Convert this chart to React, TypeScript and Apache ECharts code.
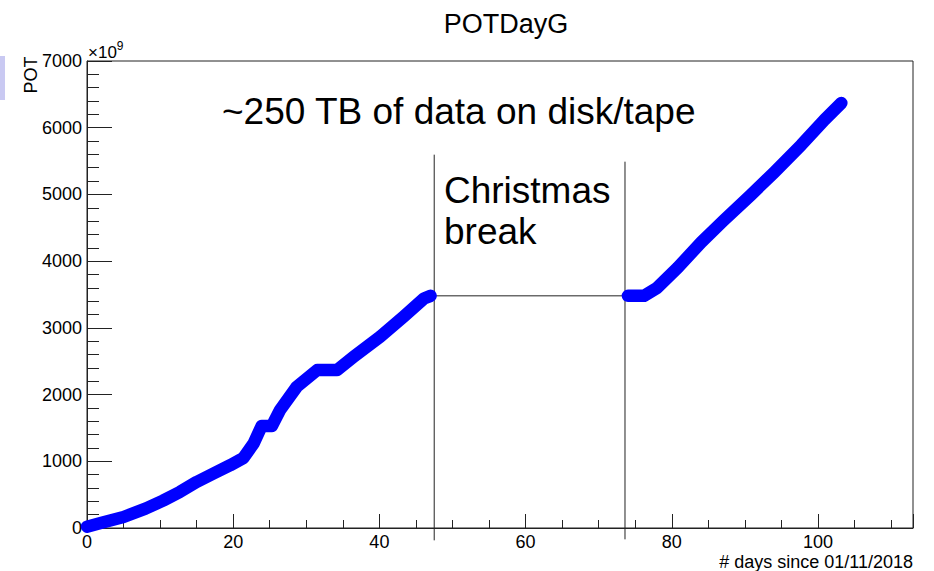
import React, { useEffect, useRef } from "react";
import * as echarts from "echarts";

// Cumulative POT (×10^9) vs day, before the Christmas break
const daysBefore = [0, 2, 5, 8, 10.4, 12.7, 15, 17.3, 19.6, 21.4, 22.8, 23.9, 25.3, 26.4, 28.7, 31.5, 34.2, 36.5, 40.1, 43.3, 46.1, 47];
const potBefore = [20, 80, 165, 290, 410, 540, 690, 817, 941, 1050, 1267, 1530, 1530, 1767, 2117, 2368, 2368, 2568, 2868, 3168, 3440, 3480];
// after the break
const daysAfter = [74, 76.2, 78, 80.8, 84, 87, 90.8, 94, 97.7, 100.9, 103.2];
const potAfter = [3480, 3480, 3600, 3900, 4280, 4600, 4990, 5330, 5740, 6120, 6370];

const breakStart = 47.5;
const breakEnd = 73.6;
const breakLevel = 3480;

const xTicks = { min: 0, max: 113, interval: 20 };
const yTicks = { min: 0, max: 7000, interval: 1000 };

const FONT = "Liberation Sans, Arial, Helvetica, sans-serif";

export default function App() {
  const ref = useRef<HTMLDivElement>(null);
  useEffect(() => {
    if (!ref.current) return;
    const chart = echarts.init(ref.current, null, { renderer: "svg" });
    const pairs = (xs: number[], ys: number[]) => xs.map((x, i) => [x, ys[i]]);
    chart.setOption({
      animation: false,
      backgroundColor: "#ffffff",
      title: {
        text: "POTDayG",
        left: 501,
        top: 5,
        textAlign: "center",
        textStyle: { fontFamily: FONT, fontSize: 27, fontWeight: "normal", color: "#000" },
      },
      grid: {
        left: 87,
        right: 21,
        top: 61,
        bottom: 43,
        containLabel: false,
        outerBoundsMode: "none",
        show: true,
        borderColor: "#222",
        borderWidth: 1,
        backgroundColor: "transparent",
      },
      xAxis: {
        type: "value",
        min: xTicks.min,
        max: xTicks.max,
        interval: xTicks.interval,
        axisLine: { show: true, onZero: false, lineStyle: { color: "#222", width: 1 } },
        axisTick: { show: true, inside: true, length: 14, lineStyle: { color: "#222" } },
        minorTick: { show: true, splitNumber: 4, length: 8, lineStyle: { color: "#222" } },
        splitLine: { show: false },
        axisLabel: {
          fontFamily: FONT,
          fontSize: 18,
          color: "#000",
          margin: 5,
          showMaxLabel: false,
          formatter: (v: number) => String(v),
        },
      },
      yAxis: {
        type: "value",
        min: yTicks.min,
        max: yTicks.max,
        interval: yTicks.interval,
        axisLine: { show: true, onZero: false, lineStyle: { color: "#222", width: 1 } },
        axisTick: { show: true, inside: true, length: 25, lineStyle: { color: "#222" } },
        minorTick: { show: true, splitNumber: 5, length: 12, lineStyle: { color: "#222" } },
        splitLine: { show: false },
        axisLabel: {
          fontFamily: FONT,
          fontSize: 18,
          color: "#000",
          margin: 5,
          formatter: (v: number) => String(v),
        },
      },
      graphic: [
        { type: "rect", left: 0, top: 56, shape: { width: 5, height: 44 }, style: { fill: "#c9c9f2" } },
        {
          type: "text",
          x: 31,
          y: 75,
          rotation: Math.PI / 2,
          style: {
            text: "POT",
            fontFamily: FONT,
            fontSize: 18,
            fill: "#000",
            align: "center",
            verticalAlign: "middle",
          },
        },
        {
          type: "text",
          x: 88,
          y: 52,
          style: {
            text: "{a|×10}{b|9}",
            rich: {
              a: { fontFamily: FONT, fontSize: 17, fill: "#000" },
              b: { fontFamily: FONT, fontSize: 12, fill: "#000", verticalAlign: "top", padding: [0, 0, 12, 0] },
            },
            verticalAlign: "middle",
          },
        },
        {
          type: "text",
          x: 913,
          y: 562,
          style: {
            text: "# days since 01/11/2018",
            fontFamily: FONT,
            fontSize: 18,
            fill: "#000",
            align: "right",
            verticalAlign: "middle",
          },
        },
        {
          type: "text",
          x: 222,
          y: 111,
          style: {
            text: "~250 TB of data on disk/tape",
            fontFamily: FONT,
            fontSize: 37,
            fill: "#000",
            verticalAlign: "middle",
          },
        },
        {
          type: "text",
          x: 444,
          y: 190,
          style: { text: "Christmas", fontFamily: FONT, fontSize: 37, fill: "#000", verticalAlign: "middle" },
        },
        {
          type: "text",
          x: 444,
          y: 231,
          style: { text: "break", fontFamily: FONT, fontSize: 37, fill: "#000", verticalAlign: "middle" },
        },
      ],
      series: [
        {
          type: "line",
          data: [[breakStart, breakLevel], [breakEnd, breakLevel]],
          showSymbol: false,
          symbol: "none",
          lineStyle: { color: "#222", width: 1 },
          silent: true,
          z: 1,
        },
        {
          type: "line",
          data: [[breakStart, -185], [breakStart, 5596]],
          showSymbol: false,
          symbol: "none",
          clip: false,
          lineStyle: { color: "#222", width: 1 },
          silent: true,
          z: 1,
        },
        {
          type: "line",
          data: [[breakEnd, -170], [breakEnd, 5491]],
          showSymbol: false,
          symbol: "none",
          clip: false,
          lineStyle: { color: "#222", width: 1 },
          silent: true,
          z: 1,
        },
        {
          type: "line",
          data: pairs(daysBefore, potBefore),
          showSymbol: false,
          symbol: "none",
          clip: false,
          lineStyle: { color: "#0000ff", width: 12.5, cap: "round", join: "round" },
          z: 3,
        },
        {
          type: "line",
          data: pairs(daysAfter, potAfter),
          showSymbol: false,
          symbol: "none",
          clip: false,
          lineStyle: { color: "#0000ff", width: 12.5, cap: "round", join: "round" },
          z: 3,
        },
      ],
    });
    return () => chart.dispose();
  }, []);
  return (
    <div
      ref={ref}
      style={{ position: "fixed", left: 0, top: 0, width: 934, height: 571, background: "#fff" }}
    />
  );
}
